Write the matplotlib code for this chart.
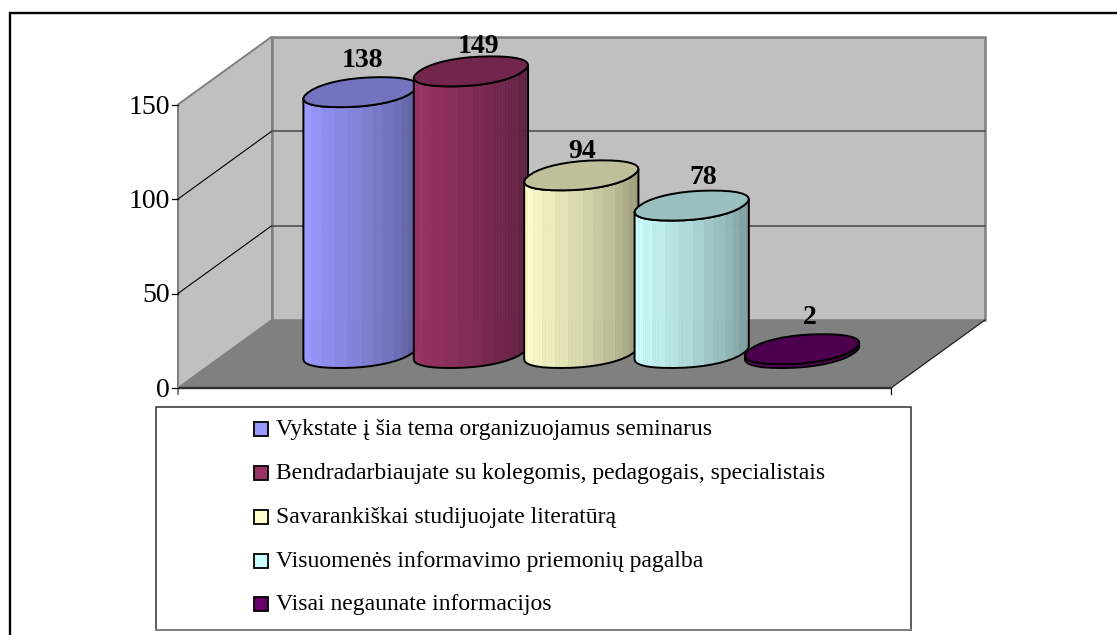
import numpy as np
import matplotlib
matplotlib.use("Agg")
import matplotlib.pyplot as plt
from matplotlib.patches import Polygon, Rectangle

categories = ["Vykstate į šia tema organizuojamus seminarus",
              "Bendradarbiaujate su kolegomis, pedagogais, specialistais",
              "Savarankiškai studijuojate literatūrą",
              "Visuomenės informavimo priemonių pagalba",
              "Visai negaunate informacijos"]
values = [138, 149, 94, 78, 2]
colors = ["#9999FF", "#993366", "#FFFFCC", "#CCFFFF", "#660066"]
y_ticks = [0, 50, 100, 150]
label_dx = [2, 7.5, 1, 11, 8]
label_dy = [32, 25, 24, 28, 32]

plt.rcParams["font.family"] = "Liberation Serif"
W, H = 1117, 635
fig = plt.figure(figsize=(W / 100, H / 100), dpi=100)
ax = fig.add_axes([0, 0, 1, 1])
ax.set_xlim(0, W)
ax.set_ylim(H, 0)
ax.axis("off")

# projection of the 3-D value axis onto the picture
X0, X1, Y0 = 178, 891, 388
PX = 1.89
DX, DY = 94, 68
def vy(v):
    return Y0 - PX * v

def poly(pts, **kw):
    ax.add_patch(Polygon(pts, closed=True, **kw))

# outer frame (no right/bottom edge visible)
ax.plot([9.5, 9.5, W], [H, 12.5, 12.5], color="black", lw=1.7, solid_joinstyle="miter", zorder=1)

# walls and floor
poly([(X0, vy(150)), (X0 + DX, vy(150) - DY), (X0 + DX, Y0 - DY), (X0, Y0)],
     fc="#C0C0C0", ec="#808080", lw=1.4, zorder=2)
poly([(X0 + DX, vy(150) - DY), (X1 + DX, vy(150) - DY), (X1 + DX, Y0 - DY), (X0 + DX, Y0 - DY)],
     fc="#C0C0C0", ec="#808080", lw=1.8, zorder=2)
poly([(X0, Y0), (X0 + DX, Y0 - DY), (X1 + DX, Y0 - DY), (X1, Y0)],
     fc="#808080", ec="none", zorder=2)
ax.plot([X1, X1 + DX], [Y0, Y0 - DY], color="#202020", lw=0.9, zorder=3)
ax.plot([X0, X1], [Y0, Y0], color="#303030", lw=1.7, zorder=3, solid_capstyle="butt")
ax.plot([X0, X0], [vy(150), Y0 + 6], color="#808080", lw=1.4, zorder=3)

for v in y_ticks:
    yy = vy(v)
    ax.plot([X0 - 6, X0], [yy, yy], color="black", lw=0.9, zorder=3)
    ax.text(X0 - 8, yy + 2.5, str(v), ha="right", va="center", fontsize=20, color="black", zorder=5)
    if v in (50, 100):
        ax.plot([X0, X0 + DX], [yy, yy - DY], color="black", lw=0.8, zorder=3)
        ax.plot([X0 + DX, X1 + DX], [yy - DY, yy - DY], color="#505050", lw=1.2, zorder=3)
ax.plot([X1, X1], [Y0, Y0 + 6], color="black", lw=0.9, zorder=3)

# cylinders
CX0, STEP = 360.5, 110.4
R, DEPTH_X, DEPTH_Y = 52, 20.7, 15
BASE = 353
N = 18
P = 0.9

def spow(a):
    return np.sign(a) * np.abs(a) ** P

def ring(cx, cy, t):
    c, s = spow(np.cos(t)), spow(np.sin(t))
    return cx + R * c + DEPTH_X * s, cy - DEPTH_Y * s

t_left = np.pi + np.arctan2(DEPTH_X, R)
ts = np.linspace(t_left, t_left + np.pi, N + 1)
ta = np.linspace(0, 2 * np.pi, 2 * N + 1)[:-1] + t_left

def shade(rgb, f):
    return tuple(np.array(rgb) * f)

for i, (val, col) in enumerate(zip(values, colors)):
    rgb = matplotlib.colors.to_rgb(col)
    cx = CX0 + STEP * i
    cb = BASE
    ct = BASE - PX * val
    z = 10 + i
    fine = np.linspace(ts[0], ts[-1], 49)
    for k in range(48):
        f = (k + 0.5) / 48
        fac = 1.0 if f < 0.15 else 1.0 - 0.42 * ((f - 0.15) / 0.85) ** 1.05
        fac = np.round(fac * 28) / 28
        xa, ya0 = ring(cx, cb, fine[k]); xb, yb0 = ring(cx, cb, fine[k + 1])
        poly([(xa, ct + (ya0 - cb)), (xb, ct + (yb0 - cb)), (xb, yb0), (xa, ya0)],
             fc=shade(rgb, fac), ec=shade(rgb, fac), lw=0.4, zorder=z)
    xb_, yb_ = ring(cx, cb, ts)
    xt_, yt_ = ring(cx, ct, ts)
    ol = list(zip(xt_, yt_)) + list(zip(xb_[::-1], yb_[::-1]))
    poly(ol, fc="none", ec="black", lw=1.4, joinstyle="round", zorder=z + 0.1)
    xr, yr = ring(cx, ct, ta)
    poly(list(zip(xr, yr)), fc=shade(rgb, 0.75), ec="black", lw=1.4, joinstyle="round", zorder=z + 0.2)
    ax.text(cx + label_dx[i], ct - label_dy[i], str(val), ha="center", va="center", fontsize=20,
            fontweight="bold", color="black", zorder=30)

# legend
ax.add_patch(Rectangle((155.5, 406.5), 755, 223, fc="white", ec="#303030", lw=1.1, zorder=2))
ax.plot([155.5, 911], [630, 630], color="#808080", lw=1.4, zorder=2.1)
leg_y = [429, 473, 517, 561, 604]
for c, col, yy in zip(categories, colors, leg_y):
    ax.add_patch(Rectangle((254, yy - 7), 14, 14, fc=col, ec="black", lw=1.3, zorder=3))
    ax.text(276, yy + 0.5, c, ha="left", va="center", fontsize=17, color="black", zorder=3)

fig.savefig("out.png", dpi=100)
